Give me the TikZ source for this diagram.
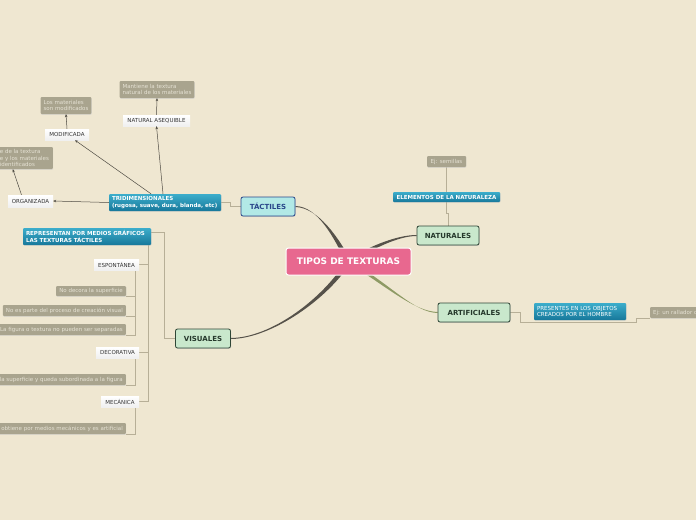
\documentclass[tikz,border=0pt]{standalone}
\usepackage{fontspec}
\setmainfont{DejaVu Sans}
\usetikzlibrary{arrows.meta,shadows}
\definecolor{TXBack}{HTML}{EFE7D1}
\definecolor{TXPink}{HTML}{E8688F}
\definecolor{TXCyan}{HTML}{B2E9E6}
\definecolor{TXNavy}{HTML}{29468A}
\definecolor{TXMint}{HTML}{C9E8CC}
\definecolor{TXPine}{HTML}{2F4636}
\definecolor{TXBlueTop}{HTML}{3CADCB}
\definecolor{TXBlueBot}{HTML}{17789A}
\definecolor{TXGray}{HTML}{A9A48E}
\definecolor{TXGrayText}{HTML}{E6E2D4}
\definecolor{TXDark}{HTML}{333333}
\definecolor{TXLink}{HTML}{B7AF97}
\definecolor{TXArrow}{HTML}{4E4B43}
\definecolor{TXBranch}{HTML}{56524A}
\definecolor{TXOlive}{HTML}{8E9A64}
\pgfdeclarelayer{back}
\pgfdeclarelayer{links}
\pgfsetlayers{back,links,main}
\newcommand{\txsmall}{\fontsize{5.5}{6.4}\selectfont}

\begin{document}
\begin{tikzpicture}[x=1pt,y=-1pt,
  centralbox/.style={fill=TXPink,draw=white,line width=1pt,rounded corners=2.5pt,
    text=white,font=\bfseries\fontsize{9}{10}\selectfont,minimum width=125,minimum height=27,inner sep=0pt},
  mainbox/.style={rounded corners=2pt,line width=0.8pt,minimum height=19,inner sep=0pt,
    font=\bfseries\fontsize{7}{8}\selectfont,drop shadow={shadow xshift=0.6pt,shadow yshift=-0.8pt,fill=black!30}},
  greenbox/.style={mainbox,fill=TXMint,draw=TXPine,text=TXPine!80!black},
  cyanbox/.style={mainbox,fill=TXCyan,draw=TXNavy,text=TXNavy},
  bluebox/.style={top color=TXBlueTop,bottom color=TXBlueBot,text=white,rounded corners=1pt,
    inner xsep=3pt,inner ysep=0pt,align=left,font=\bfseries\txsmall,
    drop shadow={shadow xshift=0.5pt,shadow yshift=-0.6pt,fill=black!25}},
  whitebox/.style={top color=white,bottom color=black!6,text=TXDark,inner sep=0pt,
    minimum height=11,font=\txsmall,
    drop shadow={shadow xshift=0.4pt,shadow yshift=-0.6pt,fill=black!15}},
  graybox/.style={fill=TXGray,text=TXGrayText,rounded corners=1pt,inner xsep=3pt,inner ysep=0pt,
    minimum height=11,align=left,font=\txsmall,
    drop shadow={shadow xshift=0.4pt,shadow yshift=-0.8pt,fill=black!20}},
  link/.style={draw=TXLink,line width=0.6pt},
  pointer/.style={draw=TXArrow,line width=0.5pt,-{Stealth[length=3pt,width=2.6pt]}}]
\begin{pgfonlayer}{back}
\fill[TXBack] (0,0) rectangle (696,520);
\end{pgfonlayer}
\useasboundingbox (0,0) rectangle (696,520);

% centre and main topics
\node[centralbox] (tipos) at (348.5,261.5) {TIPOS DE TEXTURAS};
\node[cyanbox,minimum width=54] (tactiles) at (268,206.5) {TÁCTILES};
\node[greenbox,minimum width=62] (naturales) at (448,235.5) {NATURALES};
\node[greenbox,minimum width=72] (artificiales) at (474,312.5) {ARTIFICIALES};
\node[greenbox,minimum width=55] (visuales) at (203,338.5) {VISUALES};

% tactiles
\node[bluebox,text width=106,minimum height=17] (tri) at (165,202.5)
  {TRIDIMENSIONALES\\(rugosa, suave, dura, blanda, etc)};
\node[whitebox,minimum width=45,minimum height=12] (organizada) at (30.5,201) {ORGANIZADA};
\node[whitebox,minimum width=44] (modificada) at (67,134.5) {MODIFICADA};
\node[whitebox,minimum width=67] (asequible) at (156.5,120.5) {NATURAL ASEQUIBLE};
\node[graybox,minimum height=17] (losmat) at (66,105.5) {Los materiales\\son modificados};
\node[graybox,minimum height=17] (mantiene) at (157,89.5) {Mantiene la textura\\natural de los materiales};
\node[graybox,minimum height=22,anchor=east,text width=50] (identif) at (53,158)
  {e de la textura\\e y los materiales\\identificados};

% naturales
\node[bluebox,minimum width=107,minimum height=10] (elementos) at (446.5,197) {ELEMENTOS DE LA NATURALEZA};
\node[graybox,minimum width=39] (semillas) at (446.5,161.5) {Ej: semillas};

% artificiales
\node[bluebox,text width=86,minimum height=17,font=\txsmall] (presentes) at (580,311.5)
  {PRESENTES EN LOS OBJETOS\\CREADOS POR EL HOMBRE};
\node[graybox,anchor=west] (rallador) at (650,312.5) {Ej: un rallador d};

% visuales
\node[bluebox,text width=122,minimum height=17] (representan) at (87,236.5)
  {REPRESENTAN POR MEDIOS GRÁFICOS\\LAS TEXTURAS TÁCTILES};
\node[whitebox,minimum width=45] (espontanea) at (116.5,264.5) {ESPONTÁNEA};
\node[whitebox,minimum width=43] (decorativa) at (117.5,352.5) {DECORATIVA};
\node[whitebox,minimum width=38] (mecanica) at (120,401.5) {MECÁNICA};
\node[graybox,minimum width=70,minimum height=10] (nodecora) at (91,291) {No decora la superficie};
\node[graybox,anchor=east] (noparte) at (126,310.5) {No es parte del proceso de creación visual};
\node[graybox,anchor=east] (figura) at (126,329.5) {La figura o textura no pueden ser separadas};
\node[graybox,anchor=east] (decora) at (126,379.5) {la superficie y queda subordinada a la figura};
\node[graybox,anchor=east] (obtiene) at (126,428.5) {obtiene por medios mecánicos y es artificial};

\begin{pgfonlayer}{links}
% tapered main branches
\fill[TXBranch] ([xshift=-2.8pt]tipos.center) .. controls (334,238) and (318,206.5) .. ([yshift=0.5pt]tactiles.east)
  -- ([yshift=-0.5pt]tactiles.east) .. controls (318,207.5) and (339,238) .. ([xshift=2.8pt]tipos.center) -- cycle;
\fill[TXBranch] ([xshift=-2.8pt]tipos.center) .. controls (323,298) and (272,337.5) .. ([yshift=0.5pt]visuales.east)
  -- ([yshift=-0.5pt]visuales.east) .. controls (272,338.5) and (329,298) .. ([xshift=2.8pt]tipos.center) -- cycle;
\fill[TXBranch] ([yshift=2.6pt]tipos.center) .. controls (372,245) and (398,235) .. ([yshift=0.5pt]naturales.west)
  -- ([yshift=-0.5pt]naturales.west) .. controls (398,236) and (372,249) .. ([yshift=-2.6pt]tipos.center) -- cycle;
\fill[TXOlive] ([xshift=-2.4pt]tipos.center) .. controls (386,286) and (414,311.5) .. ([yshift=0.5pt]artificiales.west)
  -- ([yshift=-0.5pt]artificiales.west) .. controls (414,312.5) and (390,284) .. ([xshift=2.4pt]tipos.center) -- cycle;

% thin links
\draw[link] (tactiles.west) -- ++(-10,0) |- (tri.east);
\draw[link] (naturales.north) -- ++(0,-12) -| (elementos.south);
\draw[link] (elementos.north) -- (semillas.south);
\draw[link] (artificiales.east) -- ++(10,0) |- ([yshift=-2pt]presentes.south west) -- ([yshift=-2pt]presentes.south east)
  -- ++(10,0) |- (rallador.south west);
\draw[link] (visuales.west) -- ++(-11,0) |- ([yshift=4pt]representan.east);
\draw[link] ([xshift=-3pt]representan.south east) |- (mecanica.east);
\draw[link] ([xshift=-3pt]representan.south east) |- (espontanea.east);
\draw[link] ([xshift=-3pt]representan.south east) |- (decorativa.east);
\draw[link] ([xshift=-4pt]espontanea.south east) |- (figura.south east);
\draw[link] ([xshift=-4pt]espontanea.south east) |- (nodecora.south east);
\draw[link] ([xshift=-4pt]espontanea.south east) |- (noparte.south east);
\draw[link] ([xshift=-4pt]decorativa.south east) |- (decora.south east);
\draw[link] ([xshift=-4pt]mecanica.south east) |- (obtiene.south east);
\end{pgfonlayer}

% arrows
\draw[pointer] (tri.west) -- (organizada.east);
\draw[pointer] ([xshift=-14pt]tri.north) -- ([xshift=8pt]modificada.south);
\draw[pointer] ([xshift=-2pt]tri.north) -- (asequible.south);
\draw[pointer] (modificada.north) -- (losmat.south);
\draw[pointer] (asequible.north) -- (mantiene.south);
\draw[pointer] ([xshift=-9pt]organizada.north) -- ([xshift=-12pt]identif.south);
\end{tikzpicture}
\end{document}
